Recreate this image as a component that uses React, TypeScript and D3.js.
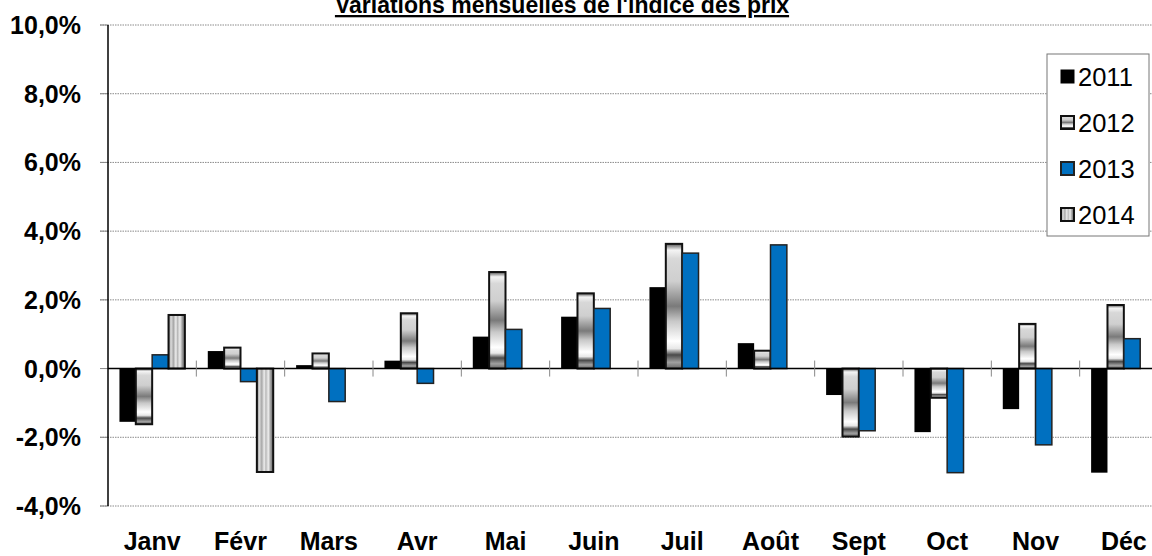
import { useRef, useEffect } from "react";
import * as d3 from "d3";

const months = ["Janv", "Févr", "Mars", "Avr", "Mai", "Juin", "Juil", "Août", "Sept", "Oct", "Nov", "Déc"];
const series = ["2011", "2012", "2013", "2014"];

const v2011 = [-1.55, 0.51, 0.1, 0.23, 0.93, 1.51, 2.37, 0.74, -0.77, -1.85, -1.18, -3.03];
const v2012 = [-1.62, 0.61, 0.44, 1.61, 2.81, 2.19, 3.63, 0.52, -1.98, -0.85, 1.3, 1.85];
const v2013 = [0.4, -0.38, -0.96, -0.43, 1.14, 1.75, 3.36, 3.6, -1.81, -3.03, -2.22, 0.87];
const v2014: (number | null)[] = [1.56, -3.01, null, null, null, null, null, null, null, null, null, null];

const yTicks = [-4, -2, 0, 2, 4, 6, 8, 10];

const fills = ["#000000", "url(#g2012)", "#0070C0", "url(#g2014)"];
const strokes = ["#000000", "#111111", "#222222", "#111111"];
const strokeW = [0, 2, 1.5, 2];

export default function App() {
  const svgRef = useRef<SVGSVGElement>(null);

  useEffect(() => {
    if (!svgRef.current) return;
    const svg = d3.select(svgRef.current);
    svg.selectAll("*").remove();

    const width = 1152;
    const height = 556;
    const left = 108;
    const right = 1168;
    const top = 25;
    const bottom = 506;
    const font = "'Liberation Sans', Arial, sans-serif";

    svg.attr("width", width).attr("height", height);

    // Gradients
    const defs = svg.append("defs");
    const g12 = defs.append("linearGradient").attr("id", "g2012")
      .attr("x1", 0).attr("y1", 0).attr("x2", 0).attr("y2", 1);
    [
      [0, "#555"], [0.05, "#f4f4f4"], [0.12, "#d8d8d8"], [0.3, "#cfcfcf"], [0.5, "#7a7a7a"],
      [0.62, "#c8c8c8"], [0.78, "#ffffff"], [0.84, "#e8e8e8"], [0.89, "#4a4a4a"], [0.95, "#a0a0a0"], [1, "#666"],
    ].forEach(([o, c]) => g12.append("stop").attr("offset", o as number).attr("stop-color", c as string));
    const g14 = defs.append("linearGradient").attr("id", "g2014")
      .attr("x1", 0).attr("y1", 0).attr("x2", 1).attr("y2", 0);
    [
      [0, "#777"], [0.15, "#dcdcdc"], [0.3, "#a8a8a8"], [0.45, "#eeeeee"], [0.55, "#b8b8b8"],
      [0.7, "#eeeeee"], [0.85, "#999"], [1, "#666"],
    ].forEach(([o, c]) => g14.append("stop").attr("offset", o as number).attr("stop-color", c as string));

    const x0 = d3.scaleBand().domain(months).range([left, right]).padding(0);
    const x1 = d3.scaleBand().domain(series).range([0, x0.bandwidth()]).paddingInner(0).paddingOuter(0.7);
    const y = d3.scaleLinear().domain([-4, 10]).range([bottom, top]);

    // Grid lines
    svg.append("g")
      .selectAll("line")
      .data(yTicks.filter((t) => t !== 0))
      .enter()
      .append("line")
      .attr("x1", left - 8)
      .attr("x2", width)
      .attr("y1", (d) => y(d))
      .attr("y2", (d) => y(d))
      .attr("stroke", "#8a8a8a")
      .attr("stroke-width", 1)
      .attr("stroke-dasharray", "1.5,1");

    // y tick marks
    svg.append("g")
      .selectAll("line")
      .data(yTicks)
      .enter()
      .append("line")
      .attr("x1", left - 8)
      .attr("x2", left)
      .attr("y1", (d) => y(d))
      .attr("y2", (d) => y(d))
      .attr("stroke", "#888");

    // Bars
    const data = [v2011, v2012, v2013, v2014];
    series.forEach((s, si) => {
      svg.append("g")
        .selectAll("rect")
        .data(months.map((m, i) => ({ m, v: data[si][i] })).filter((d) => d.v !== null))
        .enter()
        .append("rect")
        .attr("x", (d) => (x0(d.m) || 0) + (x1(s) || 0))
        .attr("y", (d) => y(Math.max(0, d.v as number)))
        .attr("width", x1.bandwidth())
        .attr("height", (d) => Math.abs(y(d.v as number) - y(0)))
        .attr("fill", fills[si])
        .attr("stroke", strokes[si])
        .attr("stroke-width", strokeW[si]);
    });

    // Zero line
    svg.append("line")
      .attr("x1", left).attr("x2", width)
      .attr("y1", y(0)).attr("y2", y(0))
      .attr("stroke", "#000").attr("stroke-width", 1.5);

    // Category ticks
    svg.append("g")
      .selectAll("line")
      .data(months.slice(1))
      .enter()
      .append("line")
      .attr("x1", (d) => x0(d) || 0)
      .attr("x2", (d) => x0(d) || 0)
      .attr("y1", y(0) - 8)
      .attr("y2", y(0) + 8)
      .attr("stroke", "#888");

    // Y axis line
    svg.append("line")
      .attr("x1", left).attr("x2", left)
      .attr("y1", top).attr("y2", bottom)
      .attr("stroke", "#000").attr("stroke-width", 1.5);

    // Y labels
    svg.append("g")
      .selectAll("text")
      .data(yTicks)
      .enter()
      .append("text")
      .attr("x", 81)
      .attr("y", (d) => y(d) + 9)
      .attr("text-anchor", "end")
      .attr("font-family", font)
      .attr("font-weight", "bold")
      .attr("font-size", "25px")
      .attr("fill", "#000")
      .text((d) => d.toFixed(1).replace(".", ",") + "%");

    // X labels
    svg.append("g")
      .selectAll("text")
      .data(months)
      .enter()
      .append("text")
      .attr("x", (d) => (x0(d) || 0) + x0.bandwidth() / 2)
      .attr("y", 550)
      .attr("text-anchor", "middle")
      .attr("font-family", font)
      .attr("font-weight", "bold")
      .attr("font-size", "25px")
      .attr("fill", "#000")
      .text((d) => d);

    // Title
    svg.append("text")
      .attr("x", 562)
      .attr("y", 13)
      .attr("text-anchor", "middle")
      .attr("font-family", font)
      .attr("font-weight", "bold")
      .attr("font-size", "23px")
      .attr("text-decoration", "underline")
      .attr("fill", "#000")
      .text("Variations mensuelles de l'indice des prix");

    // Legend
    const lg = svg.append("g");
    lg.append("rect")
      .attr("x", 1047).attr("y", 54).attr("width", 102).attr("height", 182)
      .attr("fill", "#fff").attr("stroke", "#777").attr("stroke-width", 1);
    series.forEach((s, i) => {
      const cy = 77 + i * 46;
      lg.append("rect")
        .attr("x", 1061).attr("y", cy - 7).attr("width", 13).attr("height", 13)
        .attr("fill", fills[i])
        .attr("stroke", i === 0 ? "#000" : strokes[i])
        .attr("stroke-width", i === 0 ? 1 : 2);
      lg.append("text")
        .attr("x", 1078).attr("y", cy + 9)
        .attr("font-family", font)
        .attr("font-size", "25.5px")
        .attr("fill", "#000")
        .text(s);
    });
  }, []);

  return (
    <div style={{ position: "absolute", left: 0, top: 0 }}>
      <svg ref={svgRef} style={{ display: "block" }} />
    </div>
  );
}
